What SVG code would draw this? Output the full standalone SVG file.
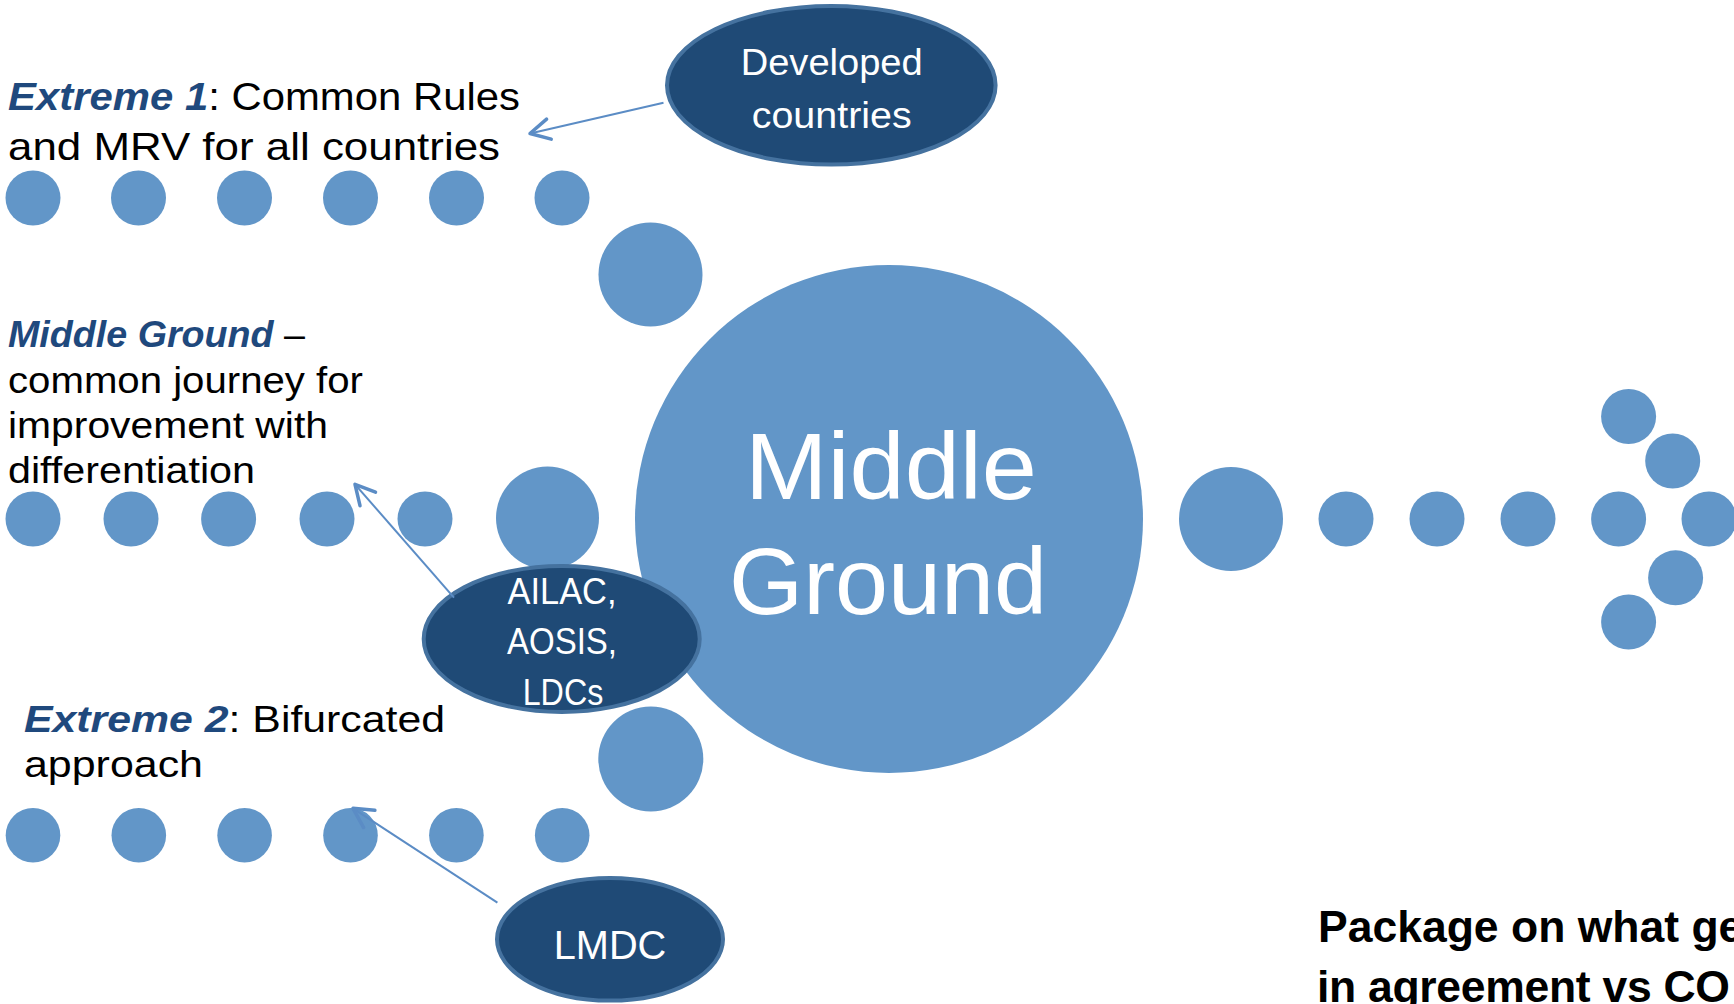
<svg xmlns="http://www.w3.org/2000/svg" width="1734" height="1004" viewBox="0 0 1734 1004">
  <defs>
    <style>
      .dot { fill: #6296C8; }
      .oval { fill: #1F4A76; stroke: #45729F; stroke-width: 4; }
      .lbl { font-family: "Liberation Sans", Arial, sans-serif; fill: #000000; }
      .em { font-weight: bold; font-style: italic; fill: #1F497D; }
      .w { font-family: "Liberation Sans", Arial, sans-serif; fill: #FFFFFF; text-anchor: middle; }
      .bold { font-family: "Liberation Sans", Arial, sans-serif; font-weight: bold; fill: #000000; }
      .conn { stroke: #5B8CC5; stroke-width: 2; fill: none; marker-end: url(#arr); }
    </style>
    <marker id="arr" markerUnits="userSpaceOnUse" markerWidth="30" markerHeight="30" viewBox="-24 -15 30 30" refX="0" refY="0" orient="auto">
      <path d="M -19.4 -10.3 L 0 0 L -19.4 10.3" fill="none" stroke="#5B8CC5" stroke-width="3.5" stroke-linecap="round" stroke-linejoin="round"/>
    </marker>
  </defs>

  <rect x="0" y="0" width="1734" height="1004" fill="#FFFFFF"/>

  <!-- Extreme 1 row of dots -->
  <g id="row-extreme1">
    <circle class="dot" cx="33" cy="198" r="27.5"/>
    <circle class="dot" cx="138.5" cy="198" r="27.5"/>
    <circle class="dot" cx="244.5" cy="198" r="27.5"/>
    <circle class="dot" cx="350.5" cy="198" r="27.5"/>
    <circle class="dot" cx="456.5" cy="198" r="27.5"/>
    <circle class="dot" cx="562" cy="198" r="27.5"/>
    <circle class="dot" cx="650.5" cy="274.5" r="52"/>
  </g>

  <!-- Middle row of dots -->
  <g id="row-middle">
    <circle class="dot" cx="33" cy="519" r="27.5"/>
    <circle class="dot" cx="131" cy="519" r="27.5"/>
    <circle class="dot" cx="228.6" cy="519" r="27.5"/>
    <circle class="dot" cx="327" cy="519" r="27.5"/>
    <circle class="dot" cx="425" cy="519" r="27.5"/>
    <circle class="dot" cx="547.5" cy="518" r="51.5"/>
  </g>

  <!-- Extreme 2 row of dots -->
  <g id="row-extreme2">
    <circle class="dot" cx="33" cy="835.3" r="27.3"/>
    <circle class="dot" cx="138.8" cy="835.3" r="27.3"/>
    <circle class="dot" cx="244.6" cy="835.3" r="27.3"/>
    <circle class="dot" cx="350.5" cy="835.3" r="27.3"/>
    <circle class="dot" cx="456.4" cy="835.3" r="27.3"/>
    <circle class="dot" cx="562.2" cy="835.3" r="27.3"/>
    <circle class="dot" cx="650.8" cy="759" r="52.5"/>
  </g>

  <!-- Outgoing dotted arrow -->
  <g id="row-outcome">
    <circle class="dot" cx="1231" cy="519" r="52"/>
    <circle class="dot" cx="1346" cy="519" r="27.5"/>
    <circle class="dot" cx="1437" cy="519" r="27.5"/>
    <circle class="dot" cx="1528" cy="519" r="27.5"/>
    <circle class="dot" cx="1618.6" cy="519" r="27.5"/>
    <circle class="dot" cx="1709" cy="519" r="27.5"/>
    <circle class="dot" cx="1628.6" cy="416.5" r="27.5"/>
    <circle class="dot" cx="1672.7" cy="461" r="27.5"/>
    <circle class="dot" cx="1675.6" cy="577.8" r="27.5"/>
    <circle class="dot" cx="1628.6" cy="622" r="27.5"/>
  </g>

  <!-- Central node -->
  <g id="middle-ground">
    <circle class="dot" cx="889" cy="519" r="254"/>
    <text class="w" x="891" y="499" font-size="94.5" textLength="292" lengthAdjust="spacingAndGlyphs">Middle</text>
    <text class="w" x="888" y="613.7" font-size="94.5" textLength="318" lengthAdjust="spacingAndGlyphs">Ground</text>
  </g>

  <!-- Labels -->
  <g id="label-extreme1">
    <text class="lbl" x="8" y="110" font-size="39.5" textLength="512" lengthAdjust="spacingAndGlyphs"><tspan class="em">Extreme 1</tspan>: Common Rules</text>
    <text class="lbl" x="8" y="160" font-size="39.5" textLength="492" lengthAdjust="spacingAndGlyphs">and MRV for all countries</text>
  </g>

  <g id="label-middle">
    <text class="lbl" x="8" y="346.7" font-size="37.3" textLength="297" lengthAdjust="spacingAndGlyphs"><tspan class="em">Middle Ground</tspan> –</text>
    <text class="lbl" x="8" y="392.7" font-size="37.3" textLength="355" lengthAdjust="spacingAndGlyphs">common journey for</text>
    <text class="lbl" x="8" y="438.3" font-size="37.3" textLength="320" lengthAdjust="spacingAndGlyphs">improvement with</text>
    <text class="lbl" x="8" y="483.3" font-size="37.3" textLength="247" lengthAdjust="spacingAndGlyphs">differentiation</text>
  </g>

  <g id="label-extreme2">
    <text class="lbl" x="24" y="731.7" font-size="37.3" textLength="421" lengthAdjust="spacingAndGlyphs"><tspan class="em">Extreme 2</tspan>: Bifurcated</text>
    <text class="lbl" x="24" y="776.7" font-size="37.3" textLength="179" lengthAdjust="spacingAndGlyphs">approach</text>
  </g>

  <g id="label-package">
    <text class="bold" x="1318" y="941.7" font-size="44.5">Package on what ge</text>
    <text class="bold" x="1317" y="1002" font-size="44.5" letter-spacing="-0.3">in agreement vs CO</text>
  </g>

  <!-- Group nodes -->
  <g id="developed-countries">
    <ellipse class="oval" cx="831.3" cy="85.3" rx="164.3" ry="79.3"/>
    <text class="w" x="831.7" y="75" font-size="36.3" textLength="182" lengthAdjust="spacingAndGlyphs">Developed</text>
    <text class="w" x="831.7" y="128.3" font-size="36.3" textLength="160" lengthAdjust="spacingAndGlyphs">countries</text>
  </g>

  <g id="ailac-aosis-ldcs">
    <ellipse class="oval" cx="561.7" cy="639" rx="138" ry="73"/>
    <text class="w" x="562" y="604.3" font-size="36.3" textLength="109" lengthAdjust="spacingAndGlyphs">AILAC,</text>
    <text class="w" x="562" y="654.3" font-size="36.3" textLength="110" lengthAdjust="spacingAndGlyphs">AOSIS,</text>
    <text class="w" x="563" y="705" font-size="36.3" textLength="80.6" lengthAdjust="spacingAndGlyphs">LDCs</text>
  </g>

  <g id="lmdc">
    <ellipse class="oval" cx="610" cy="939.3" rx="113" ry="61.3"/>
    <text class="w" x="610" y="959" font-size="41" textLength="112.7" lengthAdjust="spacingAndGlyphs">LMDC</text>
  </g>

  <!-- Connectors -->
  <g id="connectors">
    <line class="conn" x1="663.5" y1="102.7" x2="530" y2="133.5"/>
    <line class="conn" x1="454" y1="597.7" x2="355" y2="484.3"/>
    <line class="conn" x1="497.4" y1="902.7" x2="353" y2="808.3"/>
  </g>
</svg>
